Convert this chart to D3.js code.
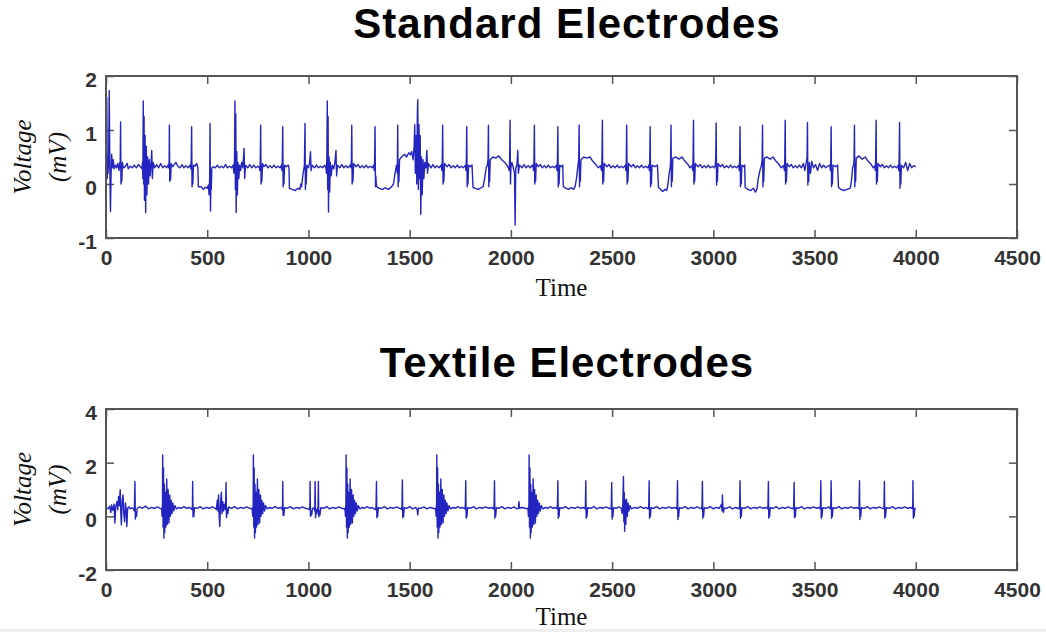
<!DOCTYPE html>
<html lang="en">
<head>
<meta charset="UTF-8">
<title>Standard vs Textile Electrodes</title>
<style>
  html, body { margin: 0; padding: 0; background: #fff; }
  svg { display: block; }
  .title { font-family: "Liberation Sans", Arial, sans-serif; font-weight: bold; font-size: 42px; letter-spacing: 1px; fill: #000; }
  .tick text { font-family: "Liberation Sans", Arial, sans-serif; font-weight: bold; font-size: 21px; fill: #333; }
  .tick line { stroke: #555; stroke-width: 1.5; }
  .ylab, .xlab { font-family: "Liberation Serif", "Times New Roman", serif; font-size: 25px; fill: #111; }
  .ylab { font-style: italic; }
  .frame { fill: none; stroke: #555; stroke-width: 2; }
  .trace { fill: none; stroke: #2424c0; stroke-width: 1.4; stroke-linejoin: round; }
</style>
</head>
<body>
<svg id="chart" width="1046" height="632"></svg>
<script src="https://d3js.org/d3.v7.min.js"></script>
<script>
// chart text and ticks
const titles = ["Standard Electrodes", "Textile Electrodes"];
const timeTicks = [0, 500, 1000, 1500, 2000, 2500, 3000, 3500, 4000, 4500];
const standardVoltTicks = [-1, 0, 1, 2];
const textileVoltTicks = [-2, 0, 2, 4];

// [time, voltage mV] vertices
const standardPoints = [
  [0,0.38],[2,0.25],[4,1.6],[6,0.1],[8,0.5],[10,0.2],[13,0.45],[16,1.73],[19,0.3],[22,-0.51],[25,0.2],[28,0.55],[32,0.3],[36,0.45],[40,0.28],[46,0.35],[52,0.3],[58,0.38],[64,0.25],[68,0.4],
  [70,0.3],[72,1.15],[74,0.0],[76,0.15],[78,0.05],[81,0.4],[86,0.3],[95,0.32],[105,0.38],[110,0.28],[120,0.33],[130,0.3],[140,0.35],[150,0.3],[160,0.36],[170,0.32],[178,0.28],
  [180,0.4],[182,0.1],[184,1.54],[186,0.0],[188,1.25],[190,-0.3],[193,0.9],[196,-0.53],[199,0.7],[202,-0.2],[206,0.5],[210,0.0],[214,0.45],[218,0.15],[222,0.35],[226,0.62],[229,0.1],[233,0.4],[240,0.3],[250,0.36],[260,0.3],[270,0.38],[280,0.3],[290,0.34],[300,0.3],[308,0.36],
  [310,0.3],[312,0.45],[313,1.09],[315,0.05],[317,0.2],[319,0.08],[322,0.38],[330,0.32],[345,0.4],[355,0.33],[365,0.3],[375,0.36],[385,0.3],[395,0.34],[405,0.3],[415,0.35],
  [419,0.28],[421,0.45],[423,1.06],[425,-0.05],[427,0.15],[429,0.0],[432,0.35],[440,0.33],[448,0.38],[454,0.3],
  [456,-0.05],[470,-0.05],[480,-0.1],[490,-0.06],[500,-0.08],[506,-0.02],[509,-0.2],
  [512,0.1],[514,1.12],[516,-0.5],[518,0.0],[520,-0.1],[523,0.3],[530,0.32],[540,0.3],[550,0.35],[560,0.3],[570,0.33],[580,0.3],[590,0.36],[600,0.3],[610,0.33],[620,0.3],[628,0.35],
  [632,0.2],[635,0.5],[637,1.54],[639,-0.1],[641,1.3],[643,-0.53],[646,0.6],[649,-0.2],[652,0.4],[656,0.1],[660,0.35],[665,0.25],[670,0.4],[676,0.3],[682,0.66],[685,0.1],[689,0.35],[700,0.3],[710,0.36],[720,0.3],[730,0.35],[740,0.3],[750,0.33],[758,0.3],
  [760,0.25],[762,0.45],[764,1.09],[766,0.0],[768,0.2],[770,0.05],[773,0.38],[780,0.32],[790,0.36],[800,0.3],[810,0.34],[820,0.3],[830,0.35],[840,0.3],[850,0.33],[860,0.3],[867,0.35],
  [869,0.25],[871,0.45],[873,1.06],[875,-0.05],[877,0.15],[879,0.0],[882,0.35],[890,0.32],[900,0.35],[904,0.3],
  [906,-0.08],[920,-0.1],[935,-0.12],[948,-0.08],[958,-0.1],[962,0.0],[966,-0.05],[972,0.15],[978,0.3],
  [980,0.35],[983,1.12],[985,-0.1],[987,0.2],[989,0.0],[992,0.35],[1000,0.3],[1006,0.4],[1010,0.6],[1013,0.25],[1018,0.35],[1030,0.3],[1040,0.35],[1050,0.3],[1060,0.33],[1070,0.3],[1080,0.35],[1086,0.3],
  [1089,0.2],[1091,0.5],[1093,1.54],[1095,-0.1],[1097,1.25],[1099,-0.52],[1102,0.5],[1105,-0.15],[1108,0.4],[1112,0.15],[1118,0.35],[1125,0.28],[1130,0.38],[1136,0.62],[1139,0.15],[1143,0.35],[1155,0.3],[1165,0.36],[1175,0.3],[1185,0.34],[1195,0.3],[1205,0.35],[1210,0.3],
  [1212,0.45],[1214,1.09],[1216,0.0],[1218,0.2],[1220,0.05],[1223,0.38],[1235,0.32],[1245,0.36],[1255,0.3],[1265,0.34],[1275,0.3],[1285,0.35],[1295,0.3],[1305,0.33],[1315,0.3],[1323,0.35],
  [1325,0.25],[1327,0.45],[1329,1.06],[1331,-0.05],[1333,0.15],[1335,0.0],
  [1337,-0.05],[1350,-0.08],[1365,-0.1],[1380,-0.07],[1395,-0.1],[1411,-0.05],[1420,0.0],[1428,0.2],[1435,0.35],
  [1439,0.2],[1441,1.09],[1443,-0.05],[1445,0.2],[1447,0.05],[1450,0.45],[1460,0.5],[1475,0.55],[1485,0.5],[1495,0.58],
  [1503,0.54],[1510,0.6],[1517,0.45],[1522,0.7],[1525,1.1],[1528,0.2],[1532,0.9],[1535,0.0],[1538,1.3],[1540,1.56],[1543,-0.1],[1546,1.1],[1549,0.1],[1552,0.9],[1555,-0.56],[1558,0.5],[1562,-0.2],[1566,0.45],[1570,0.1],[1575,0.4],[1580,0.3],[1585,0.62],[1588,0.2],[1593,0.38],[1605,0.3],[1615,0.36],[1625,0.3],[1635,0.34],[1645,0.3],[1655,0.35],
  [1659,0.25],[1661,0.45],[1663,1.09],[1665,0.0],[1667,0.2],[1669,0.05],[1672,0.38],[1685,0.32],[1695,0.36],[1705,0.3],[1715,0.34],[1725,0.3],[1735,0.35],[1745,0.3],[1755,0.33],[1765,0.3],[1776,0.35],
  [1778,0.25],[1780,0.45],[1782,1.06],[1784,-0.05],[1786,0.15],[1788,0.0],[1791,0.35],[1800,0.32],[1808,0.35],
  [1813,-0.06],[1825,-0.08],[1840,-0.1],[1852,-0.07],[1863,-0.05],[1870,0.1],[1878,0.3],[1884,0.35],
  [1887,0.45],[1889,1.09],[1891,-0.05],[1893,0.2],[1895,0.05],[1898,0.45],[1910,0.5],[1925,0.48],[1940,0.52],[1955,0.45],[1970,0.4],[1980,0.35],[1988,0.3],
  [1992,0.25],[1994,0.5],[1996,1.18],[1998,0.0],[2000,0.3],[2005,0.4],[2012,0.3],[2018,0.2],[2021,-0.76],[2024,0.3],[2030,0.35],[2034,0.62],[2037,0.2],[2042,0.35],[2055,0.3],[2065,0.36],[2075,0.3],[2085,0.34],[2095,0.3],[2105,0.35],[2110,0.3],
  [2112,0.25],[2114,0.45],[2116,1.09],[2118,0.0],[2120,0.2],[2122,0.05],[2125,0.38],[2135,0.32],[2145,0.36],[2155,0.3],[2165,0.34],[2175,0.3],[2185,0.35],[2195,0.3],[2205,0.33],[2215,0.3],[2226,0.35],
  [2228,0.25],[2230,0.45],[2232,1.06],[2234,-0.05],[2236,0.15],[2238,0.0],[2241,0.35],[2250,0.32],[2256,0.35],
  [2259,-0.05],[2272,-0.08],[2285,-0.1],[2298,-0.07],[2310,-0.1],[2317,-0.05],[2324,0.1],[2330,0.3],
  [2335,0.45],[2337,1.09],[2339,-0.05],[2341,0.2],[2343,0.05],[2346,0.45],[2360,0.5],[2375,0.48],[2390,0.5],[2405,0.42],[2420,0.36],[2432,0.3],[2442,0.34],
  [2448,0.25],[2450,0.5],[2452,1.18],[2454,0.0],[2456,0.2],[2458,0.05],[2461,0.38],[2475,0.32],[2485,0.36],[2495,0.3],[2505,0.34],[2515,0.3],[2525,0.35],[2535,0.3],[2545,0.33],[2555,0.3],[2566,0.35],
  [2568,0.25],[2570,0.45],[2572,1.09],[2574,0.0],[2576,0.2],[2578,0.05],[2581,0.38],[2595,0.32],[2605,0.36],[2615,0.3],[2625,0.34],[2635,0.3],[2645,0.35],[2655,0.3],[2665,0.33],[2675,0.3],[2682,0.35],
  [2684,0.25],[2686,0.45],[2688,1.06],[2690,-0.05],[2692,0.15],[2694,0.0],[2697,0.35],[2710,0.32],[2724,0.35],
  [2729,-0.06],[2740,-0.1],[2750,-0.14],[2760,-0.1],[2770,-0.12],[2776,0.0],[2782,0.2],[2787,0.3],
  [2789,0.45],[2791,1.09],[2793,-0.05],[2795,0.2],[2797,0.05],[2800,0.48],[2815,0.5],[2830,0.46],[2845,0.5],[2860,0.42],[2875,0.36],[2885,0.3],[2895,0.34],
  [2898,0.25],[2900,0.5],[2902,1.18],[2904,0.0],[2906,0.2],[2908,0.05],[2911,0.38],[2925,0.32],[2935,0.36],[2945,0.3],[2955,0.34],[2965,0.3],[2975,0.35],[2985,0.3],[2995,0.33],[3005,0.3],[3010,0.35],
  [3012,0.5],[3014,1.13],[3016,-0.02],[3018,0.2],[3020,0.05],[3023,0.38],[3035,0.32],[3045,0.36],[3055,0.3],[3065,0.34],[3075,0.3],[3085,0.35],[3095,0.3],[3105,0.33],[3115,0.3],[3126,0.35],
  [3128,0.25],[3130,0.45],[3132,1.06],[3134,-0.05],[3136,0.15],[3138,0.0],[3141,0.35],[3150,0.32],[3155,0.35],
  [3157,-0.06],[3170,-0.1],[3185,-0.12],[3198,-0.08],[3208,-0.15],[3215,-0.1],[3222,0.1],[3230,0.25],[3238,0.35],
  [3241,0.45],[3243,1.09],[3245,-0.05],[3247,0.2],[3249,0.05],[3252,0.48],[3265,0.5],[3280,0.46],[3295,0.5],[3310,0.42],[3325,0.36],[3335,0.3],[3347,0.34],
  [3351,0.25],[3353,0.5],[3355,1.18],[3357,0.0],[3359,0.2],[3361,0.05],[3364,0.38],[3375,0.32],[3385,0.36],[3395,0.3],[3405,0.34],[3415,0.3],[3425,0.35],[3435,0.3],[3445,0.38],[3452,0.25],[3459,0.4],
  [3463,0.5],[3465,1.14],[3467,-0.02],[3469,0.25],[3471,0.05],[3474,0.4],[3480,0.2],[3486,0.42],[3495,0.3],[3505,0.36],[3515,0.25],[3525,0.38],[3535,0.3],[3545,0.35],[3555,0.3],[3565,0.33],[3576,0.35],
  [3578,0.25],[3580,0.45],[3582,1.06],[3584,-0.05],[3586,0.15],[3588,0.0],[3591,0.35],[3605,0.32],[3614,0.35],
  [3618,-0.06],[3630,-0.1],[3645,-0.12],[3660,-0.1],[3676,-0.08],[3682,0.05],[3688,0.3],[3693,0.35],
  [3695,0.45],[3697,1.09],[3699,-0.05],[3701,0.3],[3703,0.05],[3706,0.48],[3720,0.52],[3735,0.46],[3750,0.5],[3765,0.42],[3780,0.36],[3790,0.3],[3798,0.34],
  [3800,0.25],[3802,0.5],[3804,1.18],[3806,0.0],[3808,0.2],[3810,0.05],[3813,0.38],[3825,0.32],[3835,0.36],[3845,0.3],[3855,0.34],[3865,0.3],[3875,0.35],[3885,0.3],[3895,0.33],[3905,0.3],[3914,0.35],
  [3916,0.25],[3918,0.5],[3920,1.14],[3922,-0.08],[3924,0.15],[3926,0.0],[3929,0.35],[3940,0.3],[3950,0.4],[3960,0.25],[3970,0.38],[3980,0.3],[3990,0.34],[4000,0.32]
];

// [time, voltage mV] vertices
const textilePoints = [
  [0,0.32],[10,0.28],[18,0.38],[24,0.15],[28,0.42],[34,0.22],[40,0.45],[44,-0.25],[48,0.35],[54,0.55],[58,0.25],[62,0.74],[66,0.4],[70,0.99],[73,0.15],[76,-0.32],[80,0.6],[84,0.8],[88,0.1],[92,-0.2],[96,0.5],[100,0.2],[103,-0.38],[107,0.3],[112,0.35],[120,0.28],[128,0.32],[136,0.28],[140,0.2],
  [143,1.3],[145,-0.1],[148,0.15],[151,0.0],[154,0.3],[165,0.35],[180,0.3],[195,0.38],[210,0.28],[225,0.33],[240,0.3],[255,0.35],[265,0.3],[272,0.28],
  [275,0.3],[277,0.0],[279,0.5],[280,2.29],[282,-0.4],[284,1.8],[286,-0.81],[288,1.2],[290,-0.6],[293,0.9],[296,-0.4],[300,1.39],[303,-0.3],[307,1.0],[311,-0.25],[315,0.8],[318,0.0],[322,0.6],[326,0.1],[330,0.5],[335,0.2],[340,0.4],[348,0.28],[360,0.33],[372,0.3],[385,0.36],[398,0.3],[410,0.33],[420,0.3],
  [425,0.25],[427,0.4],[428,1.3],[430,-0.02],[432,0.15],[434,0.0],[437,0.32],[450,0.3],[465,0.36],[480,0.28],[495,0.33],[510,0.3],[525,0.35],[540,0.3],
  [545,0.25],[550,0.6],[553,0.2],[556,0.8],[559,0.0],[562,-0.38],[566,0.5],[570,0.9],[573,0.1],[577,0.55],[581,0.2],[585,0.45],[590,0.25],[593,1.26],[595,-0.05],[598,0.3],[602,0.1],[606,0.35],[620,0.3],[635,0.36],[650,0.28],[665,0.33],[680,0.3],[695,0.35],[710,0.3],[720,0.28],
  [722,0.3],[725,0.0],[727,0.5],[728,2.29],[730,-0.4],[732,1.8],[734,-0.81],[736,1.2],[738,-0.6],[741,0.9],[744,-0.4],[748,1.39],[751,-0.3],[755,1.0],[759,-0.25],[763,0.8],[766,0.0],[770,0.6],[774,0.1],[778,0.5],[783,0.2],[788,0.4],[796,0.28],[808,0.33],[820,0.3],[835,0.36],[850,0.3],[862,0.33],[868,0.3],
  [870,0.25],[872,0.4],[873,1.3],[875,0.03],[877,0.2],[879,0.05],[882,0.32],[895,0.3],[910,0.36],[925,0.28],[940,0.33],[955,0.3],[970,0.35],[985,0.3],[1000,0.27],
  [1005,0.25],[1007,0.4],[1008,1.3],[1010,0.0],[1013,0.2],[1016,0.05],[1020,0.3],[1028,0.3],[1031,0.2],[1033,1.3],[1035,-0.05],[1038,0.25],[1042,0.1],[1045,0.3],[1047,0.2],[1049,1.3],[1051,-0.02],[1054,0.2],[1057,0.05],[1061,0.32],[1075,0.3],[1090,0.36],[1105,0.28],[1120,0.33],[1135,0.3],[1150,0.35],[1165,0.3],[1178,0.27],
  [1180,0.3],[1183,0.0],[1185,0.5],[1186,2.29],[1188,-0.4],[1190,1.8],[1192,-0.81],[1194,1.2],[1196,-0.6],[1199,0.9],[1202,-0.4],[1206,1.39],[1209,-0.3],[1213,1.0],[1217,-0.25],[1221,0.8],[1224,0.0],[1228,0.6],[1232,0.1],[1236,0.5],[1241,0.2],[1246,0.4],[1254,0.28],[1266,0.33],[1278,0.3],[1290,0.36],[1302,0.3],[1315,0.33],[1324,0.28],
  [1332,0.25],[1334,0.4],[1336,1.3],[1338,-0.05],[1340,0.15],[1342,0.0],[1345,0.32],[1360,0.3],[1375,0.36],[1390,0.28],[1405,0.33],[1420,0.3],[1435,0.35],[1450,0.3],[1458,0.28],
  [1460,0.25],[1462,0.4],[1464,1.36],[1466,-0.05],[1468,0.15],[1470,0.0],[1473,0.32],[1485,0.3],[1500,0.36],[1515,0.28],[1530,0.33],[1537,0.25],[1540,0.05],[1543,0.3],[1555,0.3],[1570,0.35],[1585,0.28],[1600,0.33],[1615,0.3],[1626,0.27],
  [1628,0.3],[1631,0.0],[1633,0.5],[1634,2.29],[1636,-0.4],[1638,1.8],[1640,-0.81],[1642,1.2],[1644,-0.6],[1647,0.9],[1650,-0.4],[1654,1.39],[1657,-0.3],[1661,1.0],[1665,-0.25],[1669,0.8],[1672,0.0],[1676,0.6],[1680,0.1],[1684,0.5],[1689,0.2],[1694,0.4],[1702,0.28],[1714,0.33],[1726,0.3],[1738,0.36],[1750,0.3],[1762,0.33],[1772,0.28],
  [1775,0.4],[1777,1.33],[1779,-0.07],[1781,0.15],[1783,0.0],[1786,0.32],[1800,0.3],[1815,0.36],[1830,0.28],[1845,0.33],[1860,0.3],[1875,0.35],[1890,0.3],[1905,0.33],[1914,0.28],
  [1917,0.4],[1919,1.33],[1921,-0.07],[1923,0.15],[1925,0.0],[1928,0.32],[1940,0.3],[1955,0.36],[1970,0.28],[1985,0.33],[2000,0.3],[2015,0.35],[2030,0.28],[2037,0.3],[2040,0.55],[2043,0.3],[2055,0.33],[2070,0.3],[2082,0.28],
  [2084,0.3],[2087,0.0],[2089,0.5],[2090,2.29],[2092,-0.4],[2094,1.8],[2096,-0.81],[2098,1.2],[2100,-0.6],[2103,0.9],[2106,-0.4],[2110,1.39],[2113,-0.3],[2117,1.0],[2121,-0.25],[2125,0.8],[2128,0.0],[2132,0.6],[2136,0.1],[2140,0.5],[2145,0.2],[2150,0.4],[2158,0.28],[2170,0.33],[2182,0.3],[2195,0.36],[2208,0.3],[2220,0.33],[2228,0.28],
  [2230,0.4],[2232,1.33],[2234,-0.07],[2236,0.15],[2238,0.0],[2241,0.32],[2255,0.3],[2270,0.36],[2285,0.28],[2300,0.33],[2315,0.3],[2330,0.35],[2345,0.3],[2358,0.33],[2366,0.28],
  [2368,0.4],[2370,1.33],[2372,-0.07],[2374,0.15],[2376,0.0],[2379,0.32],[2395,0.3],[2410,0.36],[2425,0.28],[2440,0.33],[2455,0.3],[2470,0.35],[2485,0.3],[2494,0.28],
  [2496,0.4],[2498,1.26],[2500,-0.1],[2502,0.15],[2504,0.0],[2507,0.32],[2520,0.3],[2535,0.35],[2545,0.3],[2550,0.1],[2553,0.5],
  [2556,1.49],[2558,-0.2],[2560,0.9],[2562,-0.56],[2565,0.6],[2568,-0.3],[2571,0.64],[2575,0.0],[2579,0.5],[2583,0.2],[2588,0.4],[2595,0.28],[2610,0.33],[2625,0.3],[2640,0.36],[2655,0.3],[2668,0.33],[2678,0.28],
  [2681,0.4],[2683,1.33],[2685,-0.07],[2687,0.15],[2689,0.0],[2692,0.32],[2705,0.3],[2720,0.36],[2735,0.28],[2750,0.33],[2765,0.3],[2780,0.35],[2795,0.3],[2810,0.33],[2819,0.28],
  [2821,0.4],[2823,1.33],[2825,-0.12],[2827,0.15],[2829,0.0],[2832,0.32],[2845,0.3],[2860,0.36],[2875,0.28],[2890,0.33],[2905,0.3],[2920,0.35],[2935,0.3],[2942,0.28],
  [2944,0.4],[2946,1.3],[2948,-0.07],[2950,0.15],[2952,0.0],[2955,0.32],[2970,0.3],[2985,0.36],[3000,0.28],[3015,0.33],[3030,0.3],[3040,0.45],[3043,0.2],[3045,0.8],[3047,0.35],[3050,0.15],[3053,0.3],[3065,0.3],[3080,0.35],[3095,0.28],[3110,0.33],[3122,0.3],[3128,0.28],
  [3130,0.4],[3132,1.33],[3134,-0.07],[3136,0.15],[3138,0.0],[3141,0.32],[3155,0.3],[3170,0.36],[3185,0.28],[3200,0.33],[3215,0.3],[3230,0.35],[3245,0.3],[3260,0.33],[3268,0.28],
  [3270,0.4],[3272,1.3],[3274,-0.07],[3276,0.15],[3278,0.0],[3281,0.32],[3295,0.3],[3310,0.36],[3325,0.28],[3340,0.33],[3355,0.3],[3370,0.35],[3385,0.3],[3395,0.28],
  [3397,0.4],[3399,1.26],[3401,-0.05],[3403,0.15],[3405,0.0],[3408,0.32],[3420,0.3],[3435,0.36],[3450,0.28],[3465,0.33],[3480,0.3],[3495,0.35],[3510,0.3],[3522,0.33],[3528,0.28],
  [3529,0.4],[3531,1.33],[3533,-0.07],[3535,0.15],[3537,0.0],[3540,0.32],[3555,0.3],[3570,0.35],[3578,0.28],
  [3580,0.4],[3582,1.33],[3584,-0.07],[3586,0.15],[3588,0.0],[3591,0.32],[3605,0.3],[3620,0.36],[3635,0.28],[3650,0.33],[3665,0.3],[3680,0.35],[3695,0.3],[3710,0.33],[3719,0.28],
  [3720,0.4],[3722,1.33],[3724,-0.12],[3726,0.15],[3728,0.0],[3731,0.32],[3745,0.3],[3760,0.36],[3775,0.28],[3790,0.33],[3805,0.3],[3820,0.35],[3835,0.3],[3842,0.28],
  [3843,0.4],[3845,1.3],[3847,-0.07],[3849,0.15],[3851,0.0],[3854,0.32],[3870,0.3],[3885,0.36],[3900,0.28],[3915,0.33],[3930,0.3],[3945,0.35],[3960,0.3],[3975,0.33],[3983,0.28],
  [3985,0.4],[3986,1.33],[3988,-0.07],[3990,0.15],[3992,0.0],[3995,0.3],[4000,0.28]
];

const svg = d3.select("#chart");
const left = 106, right = 1017;

const panels = [
  { title: titles[0], points: standardPoints, ticks: standardVoltTicks, top: 76, bottom: 238, titleY: 38, timeY: 296 },
  { title: titles[1], points: textilePoints, ticks: textileVoltTicks, top: 409, bottom: 570, titleY: 377, timeY: 625 }
];

const x = d3.scaleLinear().domain([0, 4500]).range([left, right]);
const plain = d => String(d);   // keep the short hyphen minus of the original

panels.forEach(p => {
  const y = d3.scaleLinear()
    .domain(d3.extent(p.ticks))
    .range([p.bottom, p.top]);

  svg.append("text")
    .attr("class", "title")
    .attr("x", 567)
    .attr("y", p.titleY)
    .attr("text-anchor", "middle")
    .text(p.title);

  const g = svg.append("g");

  // bottom axis with labels, inward ticks
  g.append("g")
    .attr("transform", `translate(0,${p.bottom})`)
    .call(d3.axisBottom(x).tickValues(timeTicks).tickFormat(plain)
      .tickSizeInner(-8).tickSizeOuter(0).tickPadding(12))
    .call(a => a.select(".domain").remove());

  // top axis, ticks only
  g.append("g")
    .attr("transform", `translate(0,${p.top})`)
    .call(d3.axisTop(x).tickValues(timeTicks).tickFormat("")
      .tickSizeInner(-8).tickSizeOuter(0))
    .call(a => a.select(".domain").remove());

  // left axis with labels
  g.append("g")
    .attr("transform", `translate(${left},0)`)
    .call(d3.axisLeft(y).tickValues(p.ticks).tickFormat(plain)
      .tickSizeInner(-8).tickSizeOuter(0).tickPadding(9))
    .call(a => a.select(".domain").remove())
    .call(a => a.selectAll("text").attr("dy", "0.5em"));

  // right axis, ticks only
  g.append("g")
    .attr("transform", `translate(${right},0)`)
    .call(d3.axisRight(y).tickValues(p.ticks).tickFormat("")
      .tickSizeInner(-8).tickSizeOuter(0))
    .call(a => a.select(".domain").remove());

  g.append("path")
    .datum(p.points)
    .attr("class", "trace")
    .attr("d", d3.line().x(d => x(d[0])).y(d => y(d[1])));

  g.append("rect")
    .attr("class", "frame")
    .attr("x", left)
    .attr("y", p.top)
    .attr("width", right - left)
    .attr("height", p.bottom - p.top);

  // axis titles
  const midY = (p.top + p.bottom) / 2;
  g.append("text")
    .attr("class", "ylab")
    .attr("transform", `translate(31,${midY}) rotate(-90)`)
    .attr("text-anchor", "middle")
    .text("Voltage");
  g.append("text")
    .attr("class", "ylab")
    .attr("transform", `translate(66,${midY}) rotate(-90)`)
    .attr("text-anchor", "middle")
    .text("(mV)");

  g.append("text")
    .attr("class", "xlab")
    .attr("x", (left + right) / 2)
    .attr("y", p.timeY)
    .attr("text-anchor", "middle")
    .text("Time");
});

// faint strip along the bottom edge of the original image
svg.append("rect")
  .attr("x", 0).attr("y", 629).attr("width", 1046).attr("height", 3)
  .attr("fill", "#eeeeee");
</script>
</body>
</html>
